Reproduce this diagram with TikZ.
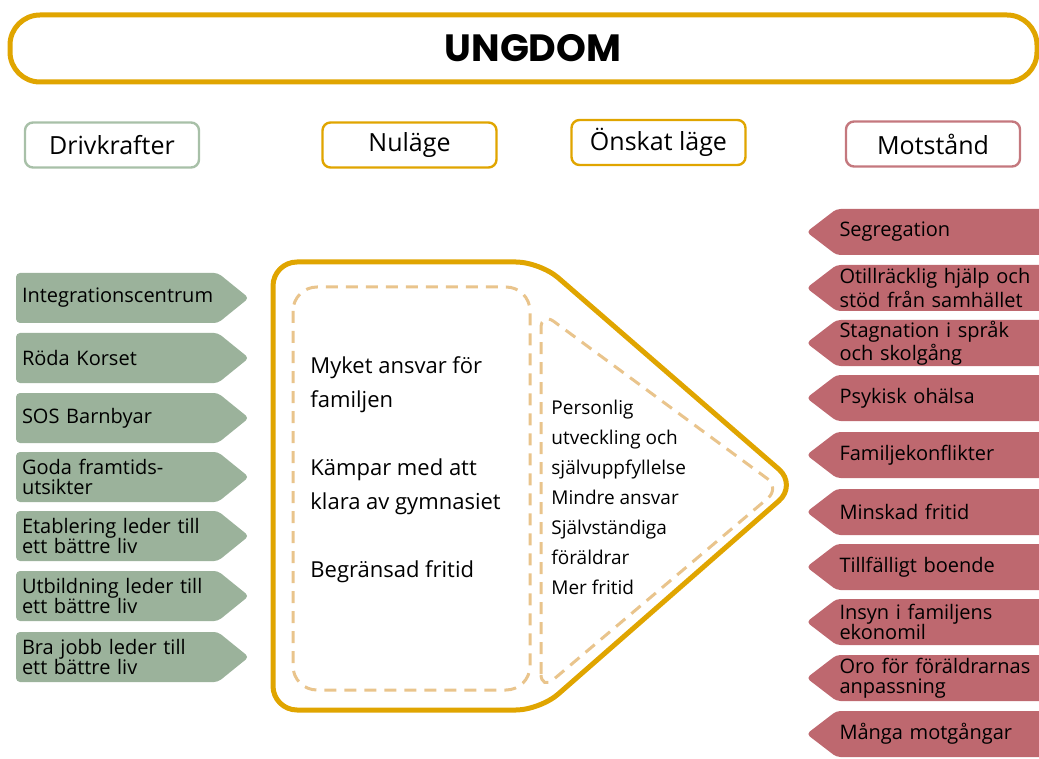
\documentclass[tikz,border=0pt]{standalone}
\usepackage{fontspec}
\setmainfont{Open Sans}
\newfontfamily\titelfont{Poppins}
\usetikzlibrary{shapes.symbols}

\definecolor{guld}{RGB}{224,165,0}
\definecolor{gron}{RGB}{155,178,155}
\definecolor{gronram}{RGB}{168,192,168}
\definecolor{rod}{RGB}{190,104,111}
\definecolor{rodram}{RGB}{196,120,126}
\definecolor{streck}{RGB}{233,196,140}

\begin{document}
\begin{tikzpicture}[
  x=0.5pt,y=-0.5pt,
  rubrik/.style={draw, rounded corners=4pt, line width=1.2pt, minimum width=87pt, minimum height=22.5pt, font=\fontsize{12.5}{14}\selectfont, inner sep=0pt},
  driv/.style={signal, signal to=east, signal pointer angle=78, fill=gron, rounded corners=2pt, text width=95pt, inner xsep=3pt, inner ysep=0pt, minimum height=25pt, align=left, font=\fontsize{10}{10}\selectfont},
  mot/.style={signal, signal to=west, signal pointer angle=75, fill=rod, rounded corners=2pt, text width=102pt, inner xsep=1.5pt, inner ysep=0pt, minimum height=23pt, align=left, font=\fontsize{10}{10}\selectfont},
  streckad/.style={draw=streck, line width=1.5pt, dash pattern=on 6pt off 4pt}
]
\useasboundingbox (0,0) rectangle (1039,759);
% titel
\node[draw=guld, line width=2.5pt, rounded corners=15pt, minimum width=513.5pt, minimum height=33.5pt] (ungdom) at (523.5,48.5) {};
\node[font=\titelfont\bfseries\fontsize{19}{19}\selectfont] (ungdomtext) at (533,48) {UNGDOM};
% rubriker
\node[rubrik, draw=gronram] (drivkrafter) at (112,145) {Drivkrafter};
\node[rubrik, draw=guld] (nulagerubrik) at (409.5,145) {Nuläge};
\node[rubrik, draw=guld] (onskatrubrik) at (658.5,142.5) {Önskat läge};
\node[rubrik, draw=rodram] (motstand) at (933,144) {Motstånd};
% nuläge och önskat läge
\draw[guld, line width=2.5pt, rounded corners=12pt] (273,262) -- (540,262) -- (797,485) -- (540,710) -- (273,710) -- cycle;
\draw[streckad, rounded corners=12pt] (293,287) rectangle (530,690);
\draw[streckad, rounded corners=8pt] (541,690) -- (541,312) -- (780,488) -- cycle;
\node[anchor=west, align=left, inner sep=0pt, font=\fontsize{11}{17}\selectfont] (nulage) at (310,470) {Myket ansvar för\\familjen\\[17pt]Kämpar med att\\klara av gymnasiet\\[17pt]Begränsad fritid};
\node[anchor=west, align=left, inner sep=0pt, font=\fontsize{9.5}{15}\selectfont] (onskat) at (551,497) {Personlig\\utveckling och\\självuppfyllelse\\Mindre ansvar\\Självständiga\\föräldrar\\Mer fritid};
% drivkrafter
\node[driv] (d1) at (117,298) {Integrationscentrum};
\node[driv] (d2) at (117,358) {Röda Korset};
\node[driv] (d3) at (117,418) {SOS Barnbyar};
\node[driv] (d4) at (117,477) {Goda framtids-\\utsikter};
\node[driv] (d5) at (117,536) {Etablering leder till\\ett bättre liv};
\node[driv] (d6) at (117,596) {Utbildning leder till\\ett bättre liv};
\node[driv] (d7) at (117,657) {Bra jobb leder till\\ett bättre liv};
% motstånd
\node[mot] (m1) at (941.5,232) {Segregation};
\node[mot] (m2) at (941.5,288) {Otillräcklig hjälp och\\stöd från samhället};
\node[mot] (m3) at (941.5,343) {Stagnation i språk\\och skolgång};
\node[mot] (m4) at (941.5,398) {Psykisk ohälsa};
\node[mot] (m5) at (941.5,455) {Familjekonflikter};
\node[mot] (m6) at (941.5,512) {Minskad fritid};
\node[mot] (m7) at (941.5,567) {Tillfälligt boende};
\node[mot] (m8) at (941.5,622) {Insyn i familjens\\ekonomil};
\node[mot] (m9) at (941.5,678) {Oro för föräldrarnas\\anpassning};
\node[mot] (m10) at (941.5,734) {Många motgångar};
\end{tikzpicture}
\end{document}
